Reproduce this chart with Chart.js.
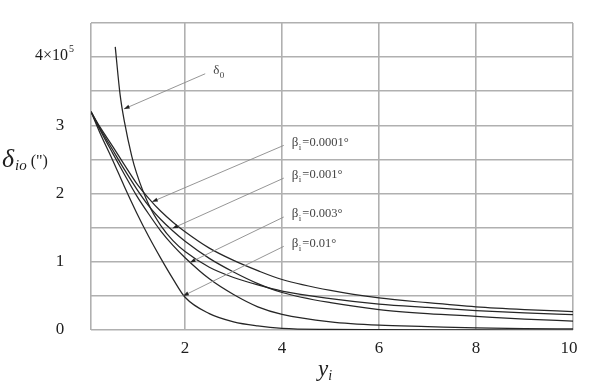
<!DOCTYPE html>
<html>
<head>
<meta charset="utf-8">
<script src="https://cdn.jsdelivr.net/npm/chart.js@4/dist/chart.umd.min.js"></script>
<style>
  body { margin: 0; background: #fff; }
  #chart { display: block; }
</style>
</head>
<body>
<canvas id="chart" width="590" height="391"></canvas>
<script>
// y_i sample points shared by the beta curves
const yi = [0.06, 0.25, 0.5, 0.75, 1, 1.25, 1.5, 1.75, 2, 2.5, 3, 3.5, 4, 5, 6, 7, 8, 9, 10];
const beta0001 = [3.2, 2.97, 2.7, 2.42, 2.15, 1.93, 1.74, 1.58, 1.44, 1.2, 1.02, 0.87, 0.74, 0.58, 0.47, 0.4, 0.34, 0.3, 0.27];
const beta001 = [3.2, 2.95, 2.65, 2.35, 2.07, 1.82, 1.62, 1.45, 1.3, 1.05, 0.85, 0.68, 0.55, 0.4, 0.3, 0.24, 0.2, 0.16, 0.13];
const beta003 = [3.2, 2.93, 2.6, 2.28, 1.97, 1.7, 1.45, 1.24, 1.06, 0.75, 0.52, 0.34, 0.23, 0.12, 0.07, 0.05, 0.03, 0.02, 0.015];
const beta01 = [3.2, 2.88, 2.5, 2.1, 1.72, 1.37, 1.05, 0.75, 0.48, 0.24, 0.12, 0.06, 0.025, 0.008, 0.004, 0.002, 0.001, 0, 0];

// delta_0 curve
const d0x = [0.56, 0.66, 0.75, 0.9, 1, 1.25, 1.5, 1.75, 2, 2.5, 3, 3.5, 4, 5, 6, 7, 8, 9, 10];
const d0y = [4.15, 3.45, 3.05, 2.55, 2.3, 1.84, 1.53, 1.31, 1.15, 0.92, 0.77, 0.66, 0.57, 0.46, 0.38, 0.33, 0.285, 0.25, 0.225];

const xTicks = [2, 4, 6, 8, 10];
const yGrid = [0, 0.5, 1, 1.5, 2, 2.5, 3, 3.5, 4, 4.5];
const yLabels = [0, 1, 2, 3, 4];

// callouts: label text, where the label sits, where the arrow points
const notes = [
  { sym: 'δ', sub: '0', rest: '', at: [2.58, 3.8], tip: [0.74, 3.24] },
  { sym: 'β', sub: 'i', rest: '=0.0001°', at: [4.2, 2.75], tip: [1.32, 1.88] },
  { sym: 'β', sub: 'i', rest: '=0.001°', at: [4.2, 2.27], tip: [1.74, 1.49] },
  { sym: 'β', sub: 'i', rest: '=0.003°', at: [4.2, 1.7], tip: [2.1, 0.99] },
  { sym: 'β', sub: 'i', rest: '=0.01°', at: [4.2, 1.27], tip: [1.96, 0.5] }
];

const pts = (xs, ys) => xs.map((v, i) => ({ x: v, y: ys[i] }));

function curve(data) {
  return {
    data: data,
    borderColor: '#262626',
    borderWidth: 1.25,
    pointRadius: 0,
    fill: false,
    cubicInterpolationMode: 'monotone'
  };
}

const serif = '"Liberation Serif", "DejaVu Serif", serif';

const textPlugin = {
  id: 'textPlugin',
  afterDraw(chart) {
    const { ctx, scales: { x, y } } = chart;
    ctx.save();
    ctx.fillStyle = '#1e1e1e';
    ctx.textBaseline = 'middle';

    // x tick labels
    ctx.font = '17px ' + serif;
    ctx.textAlign = 'center';
    xTicks.forEach(v => {
      const px = v === 10 ? x.getPixelForValue(v) - 4 : x.getPixelForValue(v);
      ctx.fillText(String(v), px, 349);
    });

    // y tick labels
    yLabels.forEach(v => {
      const py = y.getPixelForValue(v);
      if (v === 4) {
        ctx.textAlign = 'left';
        ctx.font = '16px ' + serif;
        ctx.fillText('4×10', 35, py - 1);
        const w = ctx.measureText('4×10').width;
        ctx.font = '10px ' + serif;
        ctx.fillText('5', 35 + w + 1, py - 8);
      } else {
        ctx.textAlign = 'center';
        ctx.font = '17px ' + serif;
        ctx.fillText(String(v), 60, py);
      }
    });

    // y axis title
    ctx.textAlign = 'left';
    ctx.font = 'italic 26px ' + serif;
    ctx.fillText('δ', 2, 160);
    let w = ctx.measureText('δ').width;
    ctx.font = 'italic 15px ' + serif;
    ctx.fillText('io', 3 + w, 166);
    const w2 = ctx.measureText('io').width;
    ctx.font = '16px ' + serif;
    ctx.fillText(' (")', 3 + w + w2, 162);

    // x axis title
    ctx.font = 'italic 23px ' + serif;
    ctx.fillText('y', 318, 370);
    w = ctx.measureText('y').width;
    ctx.font = 'italic 14px ' + serif;
    ctx.fillText('i', 318 + w, 376);

    // callouts
    notes.forEach(n => {
      const sx = x.getPixelForValue(n.at[0]);
      const sy = y.getPixelForValue(n.at[1]);
      const tx = x.getPixelForValue(n.tip[0]);
      const ty = y.getPixelForValue(n.tip[1]);
      const lx = sx - 8;
      const ly = sy + 3;
      ctx.strokeStyle = '#8a8a8a';
      ctx.lineWidth = 0.9;
      ctx.beginPath();
      ctx.moveTo(lx, ly);
      ctx.lineTo(tx, ty);
      ctx.stroke();
      // arrow head
      const a = Math.atan2(ty - ly, tx - lx);
      ctx.fillStyle = '#222';
      ctx.beginPath();
      ctx.moveTo(tx, ty);
      ctx.lineTo(tx - 6 * Math.cos(a - 0.35), ty - 6 * Math.sin(a - 0.35));
      ctx.lineTo(tx - 6 * Math.cos(a + 0.35), ty - 6 * Math.sin(a + 0.35));
      ctx.closePath();
      ctx.fill();

      ctx.fillStyle = '#444';
      ctx.textAlign = 'left';
      ctx.font = '13px ' + serif;
      ctx.fillText(n.sym, sx, sy);
      const ws = ctx.measureText(n.sym).width;
      ctx.font = '9px ' + serif;
      ctx.fillText(n.sub, sx + ws + 0.5, sy + 5);
      const wsub = ctx.measureText(n.sub).width;
      ctx.font = '12.5px ' + serif;
      ctx.fillText(n.rest, sx + ws + wsub + 1.5, sy);
    });
    ctx.restore();
  }
};

new Chart(document.getElementById('chart'), {
  type: 'line',
  data: {
    datasets: [
      curve(pts(d0x, d0y)),
      curve(pts(yi, beta0001)),
      curve(pts(yi, beta001)),
      curve(pts(yi, beta003)),
      curve(pts(yi, beta01))
    ]
  },
  options: {
    responsive: false,
    animation: false,
    layout: { padding: { left: 91, top: 23, right: 17, bottom: 61 } },
    plugins: { legend: { display: false }, tooltip: { enabled: false } },
    scales: {
      x: {
        type: 'linear',
        min: 0.06,
        max: 10,
        afterBuildTicks: s => { s.ticks = [0.06].concat(xTicks).map(v => ({ value: v })); },
        ticks: { display: false },
        grid: { color: '#b0b0b0', lineWidth: 1.6, drawTicks: false },
        border: { display: false }
      },
      y: {
        type: 'linear',
        min: 0,
        max: 4.5,
        afterBuildTicks: s => { s.ticks = yGrid.map(v => ({ value: v })); },
        ticks: { display: false },
        grid: { color: '#b0b0b0', lineWidth: 1.6, drawTicks: false },
        border: { display: false }
      }
    }
  },
  plugins: [textPlugin]
});
</script>
</body>
</html>
